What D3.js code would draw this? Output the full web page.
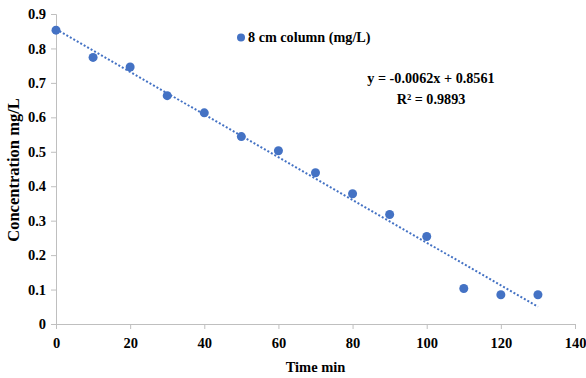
<!DOCTYPE html>
<html>
<head>
<meta charset="utf-8">
<script src="https://cdn.jsdelivr.net/npm/d3@7"></script>
<style>
  body { margin: 0; background: #fff; }
  svg text { font-family: "Liberation Serif", "Times New Roman", serif; font-weight: bold; fill: #000; }
</style>
</head>
<body>
<div id="chart"></div>
<script>
// data
const times = [0, 10, 20, 30, 40, 50, 60, 70, 80, 90, 100, 110, 120, 130];
const conc = [0.853, 0.774, 0.746, 0.663, 0.613, 0.544, 0.503, 0.439, 0.378, 0.318, 0.254, 0.103, 0.085, 0.085];
const xTicks = [0, 20, 40, 60, 80, 100, 120, 140];
const yTicks = [0, 0.1, 0.2, 0.3, 0.4, 0.5, 0.6, 0.7, 0.8, 0.9];
const seriesName = "8 cm column (mg/L)";
const slope = -0.0062, intercept = 0.8561, r2 = 0.9893;

const width = 586, height = 378;
const margin = { left: 56, right: 11, top: 14, bottom: 54 };
const blue = "#4472c4";
const axisGray = "#bfbfbf";

const svg = d3.select("#chart").append("svg")
    .attr("width", width)
    .attr("height", height);

const x = d3.scaleLinear().domain([0, 140]).range([margin.left, width - margin.right]);
const y = d3.scaleLinear().domain([0, 0.9]).range([height - margin.bottom, margin.top]);

//Y axis with outward ticks on the left
const yAxis = svg.append("g")
    .attr("transform", "translate(" + x(0) + ",0)")
    .call(d3.axisLeft(y).tickValues(yTicks).tickSize(5).tickPadding(5)
        .tickFormat(d => d === 0 ? "0" : d3.format(".1f")(d)));
yAxis.select(".domain").attr("stroke", axisGray);
yAxis.selectAll(".tick line").attr("stroke", axisGray);
yAxis.selectAll(".tick text").style("font-size", "14.5px").style("font-weight", "bold");

//X axis with small ticks below
const xAxis = svg.append("g")
    .attr("transform", "translate(0," + y(0) + ")")
    .call(d3.axisBottom(x).tickValues(xTicks).tickSize(5).tickPadding(9));
xAxis.select(".domain").attr("stroke", axisGray);
xAxis.selectAll(".tick line").attr("stroke", axisGray);
xAxis.selectAll(".tick text").style("font-size", "14.5px").style("font-weight", "bold");

//Linear trendline, dotted
svg.append("line")
    .attr("x1", x(0)).attr("y1", y(intercept))
    .attr("x2", x(130)).attr("y2", y(slope * 130 + intercept))
    .attr("stroke", blue)
    .attr("stroke-width", 2)
    .attr("stroke-dasharray", "2,2");

//Data points
svg.selectAll("circle.pt")
    .data(times)
    .enter()
    .append("circle")
    .attr("class", "pt")
    .attr("cx", d => x(d))
    .attr("cy", (d, i) => y(conc[i]))
    .attr("r", 4.5)
    .attr("fill", blue);

//Legend
svg.append("circle").attr("cx", 241).attr("cy", 37.5).attr("r", 4).attr("fill", blue);
svg.append("text").attr("x", 248).attr("y", 42).style("font-size", "14.2px").text(seriesName);

//Trendline equation
svg.append("text").attr("x", 431).attr("y", 83).attr("text-anchor", "middle")
    .style("font-size", "14.2px")
    .text("y = " + slope + "x + " + intercept);
svg.append("text").attr("x", 431).attr("y", 104).attr("text-anchor", "middle")
    .style("font-size", "14.2px")
    .text("R² = " + r2);

//Axis titles
svg.append("text").attr("x", x(70)).attr("y", 372).attr("text-anchor", "middle")
    .style("font-size", "14.5px").text("Time min");
svg.append("text")
    .attr("transform", "translate(19,170) rotate(-90)")
    .attr("text-anchor", "middle")
    .style("font-size", "16.5px")
    .text("Concentration mg/L");
</script>
</body>
</html>
